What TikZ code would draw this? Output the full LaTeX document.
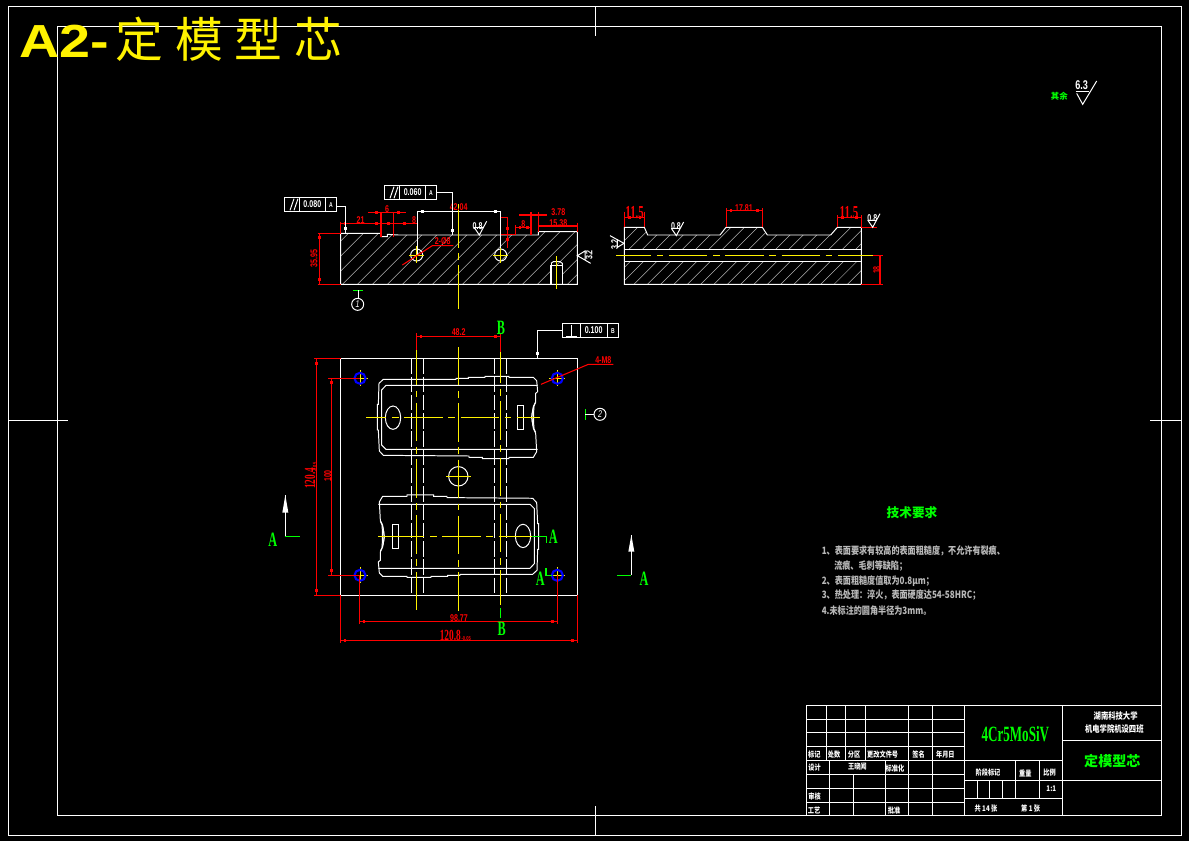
\documentclass[tikz,border=0pt]{standalone}
\usepackage{fontspec}
\newfontfamily\cadfont[FakeStretch=.8]{Noto Sans CJK SC}
\newfontfamily\bigcjk{Noto Sans CJK SC}
\newfontfamily\dimfont[FakeStretch=.72]{Liberation Sans}
\newfontfamily\steelfont[FakeStretch=.6]{Liberation Serif}
\newfontfamily\titlefont[FakeStretch=1.2]{Liberation Sans}
\newcommand{\sz}[1]{\fontsize{#1}{#1}\selectfont}
\newcommand{\tips}[1]{\foreach \p in {#1} \fill[red] \p ++(-4,-4) rectangle ++(8,8);}
\newcommand{\wtips}[1]{\foreach \p in {#1} \fill[white] \p ++(-4,-4) rectangle ++(8,8);}
\newcommand{\pocket}{
   \draw[wline] (340,193) -- (558,193) -- (558,190) -- (595,190) -- (595,187) -- (645,187) -- (645,184) -- (717,184) -- (717,187) -- (790,187) -- (800,197) -- (803,230) -- (797,235) -- (797,260) -- (790,275) -- (785,305) -- (790,340) -- (797,355) -- (800,410) -- (790,427) -- (717,427) -- (717,431) -- (637,431) -- (637,427) -- (597,427) -- (597,423) -- (340,421) -- (328,408) -- (325,345) -- (322,345) -- (322,268) -- (325,268) -- (327,205) -- cycle;
   \draw[wline] (803,211) -- (348,211) -- (335,225) -- (335,390) -- (348,403) -- (803,403);
   \draw[wline] (369,308) ellipse (23 and 35);
   \draw[wline] (742,271) rectangle (761,343);
   \draw[wline] (797,262) .. controls (782,290) and (782,325) .. (797,352);
   \draw[wline] (792,275) .. controls (790,295) and (790,320) .. (792,340);
}
\tikzset{
   zoomA/.style={shift={(270,180)},x=.025cm/3,y=-.025cm/3},
   zoomB/.style={shift={(600,195)},x=.025cm/3,y=-.025cm/3},
   zoomP/.style={shift={(270,315)},x=.025cm/3,y=-.025cm/3},
   zoomQ/.style={shift={(260,470)},x=.025cm/3,y=-.025cm/3},
   zoomT/.style={shift={(800,700)},x=.025cm/3,y=-.025cm/3},
   zoomR/.style={shift={(1030,70)},x=.025cm/3,y=-.025cm/3},
   wline/.style={white,line width=.7pt},
   rline/.style={red,line width=.75pt},
   gline/.style={green,line width=.75pt},
   hatchline/.style={white!70!black,line width=.35pt},
   hidden/.style={white,line width=.7pt,dash pattern=on 11pt off 2pt},
   centerline/.style={yellow,line width=.9pt,dash pattern=on 27.3pt off 4pt on 4.75pt off 4pt},
   yline/.style={yellow,line width=.7pt},
   holeline/.style={blue,line width=1.5pt},
   dimtxt/.style={red,inner sep=0pt,font=\dimfont\bfseries\sz{7}},
   wtxt/.style={white,inner sep=0pt,font=\dimfont\bfseries\sz{7}},
   gtxt/.style={green,inner sep=0pt,font=\steelfont\bfseries\sz{14.5}},
   blocktxt/.style={white,inner sep=0pt,font=\cadfont\bfseries\sz{5.5}},
   notetxt/.style={white!72!black,inner sep=0pt,anchor=west,font=\cadfont\bfseries\sz{7.2}},
   markring/.style={wline,draw,circle,minimum size=.3cm,inner sep=0pt,font=\dimfont\itshape\sz{7}},
   pics/roughmark/.style={code={
      \draw[wline] (-15,-22) -- (0,0) -- (22,-41);
      \draw[wline] (-15,-22) -- (12,-22);}},
   pics/toleranceframe/.style={code={
      \draw[wline] (0,0) rectangle (157,43);
      \draw[wline] (46,0) -- (46,43);
      \draw[wline] (124,0) -- (124,43);}},
}
\begin{document}
\begin{tikzpicture}[x=.025cm,y=-.025cm]
\fill[black] (0,0) rectangle (1189,841);
\useasboundingbox (0,0) rectangle (1189,841);
\draw[wline] (8,6) rectangle (1181,835);
\draw[wline] (57,26) rectangle (1161,815);
\draw[wline] (595,6) -- (595,36);
\draw[wline] (595,806) -- (595,835);
\draw[wline] (8,420) -- (68,420);
\draw[wline] (1150,420) -- (1181,420);
\node[yellow,inner sep=0pt,anchor=base west,font=\titlefont\bfseries\sz{33}] (title) at (19,58) {A2-};
\node[yellow,inner sep=0pt,anchor=base west,font=\bigcjk\sz{34}] (titlecn) at (115,58) {定\hskip8.5pt 模\hskip8.5pt 型\hskip8.5pt 芯};

\begin{scope}[zoomA]
   \begin{scope}
      \clip (212,313) -- (212,160) -- (333,160) -- (333,170) -- (352,170) -- (352,163) -- (385,165) -- (783,165) -- (805,165) -- (805,155) -- (922,155) -- (922,313) -- cycle;
      \foreach \h in {-60,-15,...,930} \draw[hatchline] (\h,320) -- ({\h+180},140);
   \end{scope}
   \fill[black] (843,257) rectangle (877,313);
   \draw[wline] (212,313) -- (212,160) -- (333,160) -- (333,170) -- (352,170) -- (352,163) -- (385,165) -- (783,165) -- (783,165) -- (805,165) -- (805,155) -- (922,155) -- (922,313) -- cycle;
   \draw[wline,line width=1pt] (843,313) -- (843,257) -- (877,257) -- (877,313);
   \draw[wline] (843,250) -- (850,245) -- (870,245) -- (877,250) -- (877,257);
   \draw[wline] (843,250) -- (843,257);
   \draw[wline] (440,225) circle (18);
   \draw[wline] (692,225) circle (18);
   \draw[wline] (442,94) -- (442,225);
   \draw[wline] (692,94) -- (692,225);
   \draw[wline] (442,94) -- (692,94);
   \wtips{(458,94),(676,94),(227,145),(547,152)}
   \draw[yellow,line width=.9pt,dash pattern=on 31pt off 4pt on 4.5pt off 4pt] (565,72) -- (565,392);
   \draw[yline] (417,225) -- (463,225);
   \draw[yline] (440,198) -- (440,250);
   \draw[yline] (668,225) -- (715,225);
   \draw[yline] (692,205) -- (692,250);
   \draw[yline] (859,228) -- (859,327);
   \draw[rline] (212,125) -- (212,160);
   \draw[rline] (212,130) -- (440,130);
   \draw[rline] (333,97) -- (333,170);
   \draw[rline] (370,97) -- (370,170);
   \draw[rline] (295,97) -- (407,97);
   \draw[rline] (143,160) -- (212,160);
   \draw[rline] (143,313) -- (212,313);
   \draw[rline] (148,160) -- (148,313);
   \draw[rline] (397,255) -- (487,197) -- (550,197);
   \draw[rline] (692,113) -- (712,113) -- (712,205);
   \draw[rline] (692,163) -- (737,163) -- (737,135);
   \draw[rline] (737,143) -- (785,143);
   \draw[rline] (783,97) -- (783,165);
   \draw[rline] (805,97) -- (805,155);
   \draw[rline] (747,105) -- (830,105);
   \draw[rline] (805,138) -- (922,138);
   \draw[rline] (922,128) -- (922,155);
   \tips{(225,130),(320,130),(355,130),(403,130),(320,97),(385,97),(148,173),(148,298),(712,145),(712,178),(750,143),(772,143),(770,105),(818,105),(820,138),(908,138)}
   \node[dimtxt] (dimA) at (272,120) {21};
   \node[dimtxt] (dimB) at (351,87) {6};
   \node[dimtxt] (dimC) at (432,120) {8};
   \node[dimtxt,rotate=90] (dimD) at (132,235) {35.95};
   \node[dimtxt] (dimE) at (566,80) {42.04};
   \node[dimtxt] (dimF) at (518,183) {2-Ø8};
   \node[dimtxt] (dimG) at (760,132) {8};
   \node[dimtxt] (dimH) at (865,97) {3.78};
   \node[dimtxt] (dimI) at (865,128) {15.38};
   \pic at (628,165) {roughmark};
   \node[wtxt] (roughA) at (623,137) {0.8};
   \draw[wline] (962,250) -- (922,227) -- (945,213) -- (945,240);
   \node[wtxt,rotate=90] (roughB) at (957,225) {3.2};
   \pic at (43,52) {toleranceframe};
   \draw[wline] (200,78) -- (227,78) -- (227,160);
   \draw[wline] (60,91) -- (72,56);
   \draw[wline] (72,91) -- (84,56);
   \node[wtxt] (tolA) at (127,73) {0.080};
   \node[wtxt,font=\dimfont\bfseries\sz{5}] (tolB) at (183,75) {A};
   \pic at (343,16) {toleranceframe};
   \draw[wline] (500,37) -- (547,37) -- (547,165);
   \draw[wline] (360,55) -- (372,20);
   \draw[wline] (372,55) -- (384,20);
   \node[wtxt] (tolC) at (428,37) {0.060};
   \node[wtxt,font=\dimfont\bfseries\sz{5}] (tolD) at (483,39) {A};
   \draw[gline] (250,331) -- (278,331);
   \draw[wline] (264,331) -- (264,355);
   \node[markring] (markA) at (263,373) {1};
\end{scope}

\begin{scope}[zoomB]
   \begin{scope}
      \clip (73,268) -- (73,97) -- (133,97) -- (143,120) -- (360,120) -- (378,97) -- (487,97) -- (502,120) -- (692,120) -- (712,97) -- (784,97) -- (784,268) -- cycle;
      \foreach \h in {-150,-110,...,780} \draw[hatchline] (\h,280) -- ({\h+200},80);
      \fill[black] (73,163) rectangle (784,199);
   \end{scope}
   \draw[wline] (73,268) -- (73,97) -- (133,97) -- (143,120) -- (360,120) -- (378,97) -- (487,97) -- (502,120) -- (692,120) -- (712,97) -- (784,97) -- (784,268) -- cycle;
   \draw[wline] (73,163) -- (784,163);
   \draw[wline] (73,199) -- (784,199);
   \draw[centerline,dash phase=2.3pt] (48,181) -- (820,181);
   \draw[rline] (73,50) -- (73,97);
   \draw[rline] (133,50) -- (133,97);
   \draw[rline] (73,67) -- (133,67);
   \draw[rline] (379,40) -- (379,97);
   \draw[rline] (487,40) -- (487,97);
   \draw[rline] (379,47) -- (487,47);
   \draw[rline] (712,60) -- (712,97);
   \draw[rline] (784,60) -- (784,97);
   \draw[rline] (712,67) -- (784,67);
   \draw[rline] (784,97) -- (832,97);
   \draw[rline] (820,181) -- (848,181);
   \draw[rline] (784,268) -- (848,268);
   \draw[rline] (840,181) -- (840,268);
   \tips{(88,67),(120,67),(393,47),(473,47),(727,67),(770,67),(840,195),(840,253)}
   \node[dimtxt,font=\steelfont\bfseries\sz{13}] (dimJ) at (104,52) {11.5};
   \node[dimtxt] (dimK) at (432,39) {17.81};
   \node[dimtxt,font=\steelfont\bfseries\sz{13}] (dimL) at (747,54) {11.5};
   \node[dimtxt,rotate=90] (dimM) at (830,225) {18};
   \pic at (229,122) {roughmark};
   \node[wtxt] (roughC) at (228,93) {0.8};
   \pic at (818,97) {roughmark};
   \node[wtxt] (roughD) at (817,68) {0.8};
   \draw[wline] (30,122) -- (72,145) -- (52,157) -- (52,135);
   \node[wtxt,rotate=90] (roughE) at (44,148) {3.2};
\end{scope}

\begin{scope}[zoomP]
   \pocket
\end{scope}
\begin{scope}[rotate around={180:(458,476.8)}]
   \begin{scope}[zoomP]
      \pocket
   \end{scope}
\end{scope}

\draw[wline] (340.7,358.3) rectangle (577.3,595.3);
\foreach \px in {411.3,423.3,494.3,506.3} \draw[hidden] (\px,358.3) -- (\px,595.3);
\draw[wline] (458.3,476.3) circle (9.7);
\foreach \px in {360,557.3} \foreach \py in {378.3,575.3} {
   \draw[yline] ({\px-8},\py) -- ({\px+8},\py);
   \draw[yline] (\px,{\py-8}) -- (\px,{\py+8});
   \draw[holeline] (\px,\py) circle (5.5);
}
\draw[yline] (446,476.3) -- (471,476.3);
\draw[centerline,dash phase=2.5pt] (416.3,350) -- (416.3,610.7);
\draw[centerline] (458.3,347) -- (458.3,610.7);
\draw[centerline,dash phase=5pt] (500.3,352) -- (500.3,605);
\draw[centerline,dash phase=12.8pt] (366,417.3) -- (540,417.3);
\draw[yline,line width=.9pt] (378.3,536.3) -- (386,536.3);
\draw[centerline] (386,536.3) -- (532,536.3);

\begin{scope}[zoomP]
   \draw[rline] (439,55) -- (439,105);
   \draw[rline] (691,55) -- (691,110);
   \draw[rline] (439,64) -- (691,64);
   \tips{(453,64),(677,64),(139,145),(184,202)}
   \node[dimtxt] (dimN) at (566,50) {48.2};
   \node[gtxt] (secB) at (693,38) {B};
   \draw[wline] (877,25) rectangle (1046,67);
   \draw[wline] (931,25) -- (931,67);
   \draw[wline] (1012,25) -- (1012,67);
   \draw[wline] (877,46) -- (802,46) -- (802,130);
   \wtips{(802,116)}
   \draw[wline] (889,63) -- (922,63);
   \draw[wline] (905,30) -- (905,63);
   \node[wtxt] (tolE) at (971,46) {0.100};
   \node[wtxt,font=\dimfont\bfseries\sz{5}] (tolF) at (1029,48) {B};
   \draw[rline] (813,208) -- (955,148) -- (1030,148);
   \node[dimtxt] (dimO) at (1000,135) {4-M8};
   \draw[gline] (946,283) -- (946,315);
   \draw[wline] (946,298) -- (972,298);
   \node[markring] (markB) at (990,298) {2};
   \draw[rline] (132,130) -- (212,130);
   \draw[rline] (175,190) -- (270,190);
\end{scope}

\begin{scope}[zoomQ]
   \draw[rline] (169,-335) -- (169,376);
   \draw[rline] (214,-275) -- (214,316);
   \draw[rline] (163,376) -- (242,376);
   \draw[rline] (205,316) -- (298,316);
   \draw[rline] (298,316) -- (298,462);
   \draw[rline] (892,316) -- (892,462);
   \draw[rline] (298,454) -- (892,454);
   \draw[rline] (242,376) -- (242,519);
   \draw[rline] (952,376) -- (952,519);
   \draw[rline] (242,511) -- (952,511);
   \tips{(169,362),(214,302),(312,454),(878,454),(255,511),(938,511)}
   \node[dimtxt] (dimP) at (597,444) {98.77};
   \node[dimtxt,font=\steelfont\bfseries\sz{11},anchor=east] (dimQ) at (603,496) {120.8};
   \node[dimtxt,font=\dimfont\bfseries\sz{4},anchor=west] (dimR) at (604,507) {-0.05};
   \node[dimtxt,font=\steelfont\bfseries\sz{11},rotate=90] (dimS) at (150,25) {120.4};
   \node[dimtxt,font=\dimfont\bfseries\sz{4},rotate=90] (dimT) at (165,-8) {-0.05};
   \node[dimtxt,rotate=90] (dimU) at (203,18) {100};
   \node[gtxt] (secC) at (725,478) {B};
   \draw[gline] (721,415) -- (721,445);
   \draw[wline] (76,75) -- (76,199);
   \fill[white] (76,75) -- (85,128) -- (67,128) -- cycle;
   \draw[gline] (76,199) -- (120,199);
   \node[gtxt] (secD) at (38,210) {A};
   \draw[wline] (1114,195) -- (1114,316);
   \fill[white] (1114,195) -- (1123,245) -- (1105,245) -- cycle;
   \draw[gline] (1071,316) -- (1114,316);
   \node[gtxt] (secE) at (1152,327) {A};
   \draw[gline] (815,199) -- (860,199) -- (860,218);
   \node[gtxt] (secF) at (880,200) {A};
   \draw[gline] (858,294) -- (858,316) -- (875,316);
   \node[gtxt] (secG) at (841,325) {A};
\end{scope}

\node[green,inner sep=0pt,font=\bigcjk\bfseries\sz{9}] (notehead) at (912,513) {技术要求};
\node[notetxt] (noteA) at (821.5,551) {1、表面要求有较高的表面粗糙度，不允许有裂痕、};
\node[notetxt] (noteB) at (834,566) {流痕、毛刺等缺陷；};
\node[notetxt] (noteC) at (821.5,581) {2、表面粗糙度值取为0.8μm；};
\node[notetxt] (noteD) at (821.5,595.5) {3、热处理：淬火，表面硬度达54-58HRC；};
\node[notetxt] (noteE) at (821.5,611) {4.未标注的圆角半径为3mm。};

\begin{scope}[zoomR]
   \draw[wline] (137,65) -- (177,65);
   \draw[wline] (140,70) -- (158,103) -- (200,33);
   \node[wtxt,font=\dimfont\bfseries\sz{9}] (roughF) at (155,45) {6.3};
   \node[green,inner sep=0pt,font=\bigcjk\bfseries\sz{6}] (roughG) at (88,78) {其余};
\end{scope}

\begin{scope}[zoomT]
   \draw[wline,line width=.9pt] (19,17) rectangle (1085,346);
   \foreach \ty in {58,97,139,181,223,265,307} \draw[wline] (19,\ty) -- (493,\ty);
   \foreach \tx in {79,136,196} \draw[wline] (\tx,17) -- (\tx,181);
   \foreach \tx in {325,397} \draw[wline] (\tx,17) -- (\tx,346);
   \draw[wline] (493,17) -- (493,346);
   \draw[wline] (787,17) -- (787,346);
   \draw[wline] (88,181) -- (88,346);
   \draw[wline] (160,223) -- (160,346);
   \draw[wline] (256,181) -- (256,346);
   \draw[wline] (493,181) -- (787,181);
   \draw[wline] (493,241) -- (787,241);
   \draw[wline] (493,295) -- (787,295);
   \foreach \tx in {646,718} \draw[wline] (\tx,181) -- (\tx,295);
   \foreach \tx in {532,568,607} \draw[wline] (\tx,241) -- (\tx,295);
   \draw[wline] (787,121) -- (1085,121);
   \draw[wline] (787,241) -- (1085,241);
   \node[blocktxt] (cellA) at (43,163) {标记};
   \node[blocktxt] (cellB) at (102,163) {处数};
   \node[blocktxt] (cellC) at (162,163) {分区};
   \node[blocktxt] (cellD) at (248,163) {更改文件号};
   \node[blocktxt] (cellE) at (356,165) {签名};
   \node[blocktxt] (cellF) at (436,165) {年月日};
   \node[blocktxt] (cellG) at (44,204) {设计};
   \node[blocktxt] (cellH) at (172,200) {王晓闻};
   \node[blocktxt] (cellI) at (285,207) {标准化};
   \node[blocktxt] (cellJ) at (564,218) {阶段标记};
   \node[blocktxt] (cellK) at (676,220) {重量};
   \node[blocktxt] (cellL) at (749,219) {比例};
   \node[blocktxt] (cellM) at (754,265) {1:1};
   \node[blocktxt] (cellN) at (44,290) {审核};
   \node[blocktxt] (cellO) at (42,332) {工艺};
   \node[blocktxt] (cellP) at (282,332) {批准};
   \node[blocktxt] (cellQ) at (558,325) {共 14 张};
   \node[blocktxt] (cellR) at (692,325) {第 1 张};
   \node[blocktxt,font=\cadfont\bfseries\sz{6.5}] (schoolA) at (947,47) {湖南科技大学};
   \node[blocktxt,font=\cadfont\bfseries\sz{6.5}] (schoolB) at (943,88) {机电学院机设四班};
   \node[green,inner sep=0pt,font=\steelfont\bfseries\sz{15.5}] (steel) at (646,102) {4Cr5MoSiV};
   \node[green,inner sep=0pt,font=\bigcjk\bfseries\sz{10}] (partname) at (937,182) {定模型芯};
\end{scope}
\end{tikzpicture}
\end{document}
